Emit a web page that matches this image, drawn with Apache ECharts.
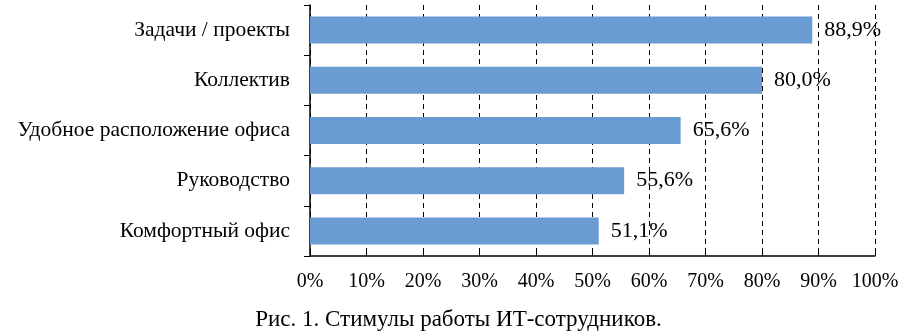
<!DOCTYPE html>
<html>
<head>
<meta charset="utf-8">
<script src="https://cdn.jsdelivr.net/npm/echarts@6/dist/echarts.min.js"></script>
<style>
  html, body { margin: 0; padding: 0; background: #fff; }
  #chart { width: 917px; height: 333px; }
</style>
</head>
<body>
<div id="chart"></div>
<script>
// категории снизу вверх (как их рисует echarts)
const categories = ['Комфортный офис', 'Руководство', 'Удобное расположение офиса', 'Коллектив', 'Задачи / проекты']
const values = [51.1, 55.6, 65.6, 80.0, 88.9]
const caption = 'Рис. 1. Стимулы работы ИТ-сотрудников.'

const font = '"Liberation Serif", "Times New Roman", serif'
const chart = echarts.init(document.getElementById('chart'))

const options = {
  animation: false,
  title: {
    text: caption,
    left: 'center',
    top: 303,
    textStyle: { fontFamily: font, fontSize: 23, fontWeight: 'normal', color: '#000' },
  },
  grid: { left: 310, right: 42, top: 5, bottom: 77 },
  xAxis: {
    type: 'value',
    min: 0,
    max: 100,
    interval: 10,
    axisLine: { show: true, lineStyle: { color: '#000', width: 1.5 } },
    axisTick: { show: true, inside: true, length: 4, lineStyle: { color: '#000' } },
    axisLabel: {
      formatter: '{value}%',
      fontFamily: font,
      fontSize: 20,
      color: '#000',
      margin: 16,
    },
    splitLine: {
      show: true,
      lineStyle: { color: '#000', type: [5, 4], width: 1 },
    },
  },
  yAxis: {
    type: 'category',
    data: categories,
    axisLine: { show: true, lineStyle: { color: '#000', width: 1.5 } },
    axisTick: { show: true, length: 6, lineStyle: { color: '#000' } },
    axisLabel: { fontFamily: font, fontSize: 21.5, color: '#000', margin: 20 },
  },
  series: [
    {
      type: 'bar',
      data: values,
      barWidth: 27,
      itemStyle: { color: '#6a9bd3' },
      label: {
        show: true,
        position: 'right',
        distance: 12,
        fontFamily: font,
        fontSize: 22,
        color: '#000',
        formatter: (p) => p.value.toFixed(1).replace('.', ',') + '%',
      },
    },
  ],
}
chart.setOption(options, true)
</script>
</body>
</html>
